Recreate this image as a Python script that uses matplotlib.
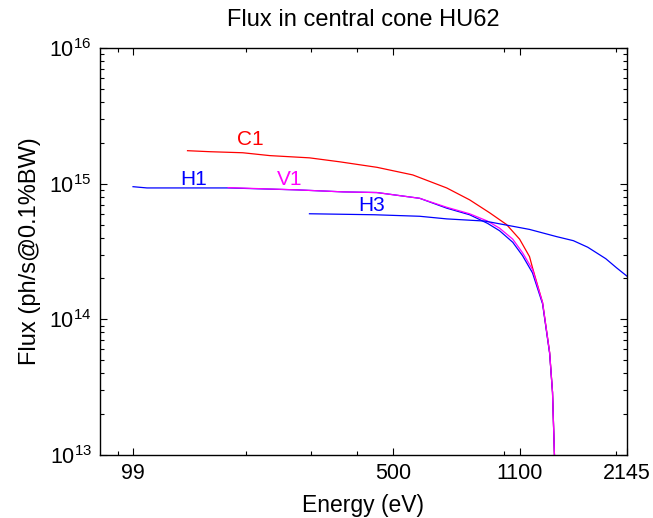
import numpy as np
import matplotlib
matplotlib.use('Agg')
import matplotlib.pyplot as plt
from matplotlib.ticker import FixedLocator, NullFormatter, LogLocator

# Flux curves (energy in eV, flux in ph/s@0.1%BW)
c1_energy = [139, 160, 196, 232, 297, 358, 452, 565, 698, 805, 912, 1013, 1099,
             1169, 1191, 1268, 1325, 1349, 1367]
c1_flux = [1.75e15, 1.72e15, 1.69e15, 1.61e15, 1.55e15, 1.45e15, 1.32e15, 1.16e15,
           9.3e14, 7.6e14, 6.1e14, 5.0e14, 3.9e14, 2.9e14, 2.4e14, 1.33e14, 5.7e13,
           2.9e13, 9.0e12]

h1_energy = [99, 108, 179, 275, 366, 452, 590, 698, 805, 900, 970, 1053, 1119,
             1191, 1268, 1325, 1349, 1367]
h1_flux = [9.5e14, 9.3e14, 9.3e14, 9.0e14, 8.7e14, 8.6e14, 7.8e14, 6.6e14, 5.9e14,
           5.1e14, 4.5e14, 3.7e14, 2.95e14, 2.2e14, 1.3e14, 5.6e13, 2.9e13, 9.0e12]

v1_energy = [179, 275, 366, 452, 590, 698, 805, 900, 970, 1053, 1119, 1191, 1268,
             1325, 1349, 1367]
v1_flux = [9.35e14, 9.0e14, 8.7e14, 8.6e14, 7.8e14, 6.7e14, 6.0e14, 5.3e14, 4.7e14,
           3.9e14, 3.1e14, 2.33e14, 1.33e14, 5.7e13, 2.9e13, 9.0e12]

h3_energy = [297, 445, 590, 698, 885, 1033, 1169, 1384, 1536, 1680, 1879, 2009, 2145]
h3_flux = [6.0e14, 5.9e14, 5.75e14, 5.5e14, 5.3e14, 4.9e14, 4.6e14, 4.07e14, 3.8e14,
           3.4e14, 2.8e14, 2.4e14, 2.08e14]

x_ticks = [99, 500, 1100, 2145]
x_minor = [90, 200, 300, 400, 1000, 2000]
y_ticks = [1e13, 1e14, 1e15, 1e16]

# curve name labels: (text, energy, flux, colour)
curve_labels = [('C1', 205, 2.1e15, 'red'),
                ('H1', 144, 1.08e15, 'blue'),
                ('V1', 263, 1.08e15, 'magenta'),
                ('H3', 437, 6.9e14, 'blue')]

plt.rcParams['font.family'] = ['Liberation Sans', 'DejaVu Sans']
plt.rcParams['mathtext.fontset'] = 'custom'
plt.rcParams['mathtext.rm'] = 'Liberation Sans'
plt.rcParams['mathtext.default'] = 'regular'

fig = plt.figure(figsize=(6.53, 5.18), dpi=100)
ax = fig.add_axes([100 / 653, 63 / 518, 527 / 653, 407 / 518])

ax.plot(c1_energy, c1_flux, color='red', lw=0.9)
ax.plot(h1_energy, h1_flux, color='blue', lw=0.9)
ax.plot(v1_energy, v1_flux, color='magenta', lw=0.9)
ax.plot(h3_energy, h3_flux, color='blue', lw=0.9)

for name, e, f, col in curve_labels:
    ax.text(e, f, name, color=col, fontsize=15, ha='center', va='center')

ax.set_xscale('log')
ax.set_yscale('log')
ax.set_xlim(80.6, 2145)
ax.set_ylim(1e13, 1e16)

ax.xaxis.set_major_locator(FixedLocator(x_ticks))
ax.xaxis.set_minor_locator(FixedLocator(x_minor))
ax.xaxis.set_minor_formatter(NullFormatter())
ax.set_xticklabels([str(t) for t in x_ticks])
ax.yaxis.set_major_locator(FixedLocator(y_ticks))
ax.yaxis.set_minor_locator(LogLocator(base=10, subs=np.arange(2, 10)))
ax.yaxis.set_minor_formatter(NullFormatter())

ax.tick_params(which='both', direction='in', top=True, right=True, labelsize=15.5, width=0.8)
ax.tick_params(which='major', length=5, pad=6)
ax.tick_params(which='minor', length=3)
for s in ax.spines.values():
    s.set_linewidth(1.0)

ax.set_title('Flux in central cone HU62', fontsize=17, pad=16)
ax.set_xlabel('Energy (eV)', fontsize=16.5, labelpad=7)
ax.set_ylabel('Flux (ph/s@0.1%BW)', fontsize=17, labelpad=6)

fig.savefig('out.png', dpi=100)
